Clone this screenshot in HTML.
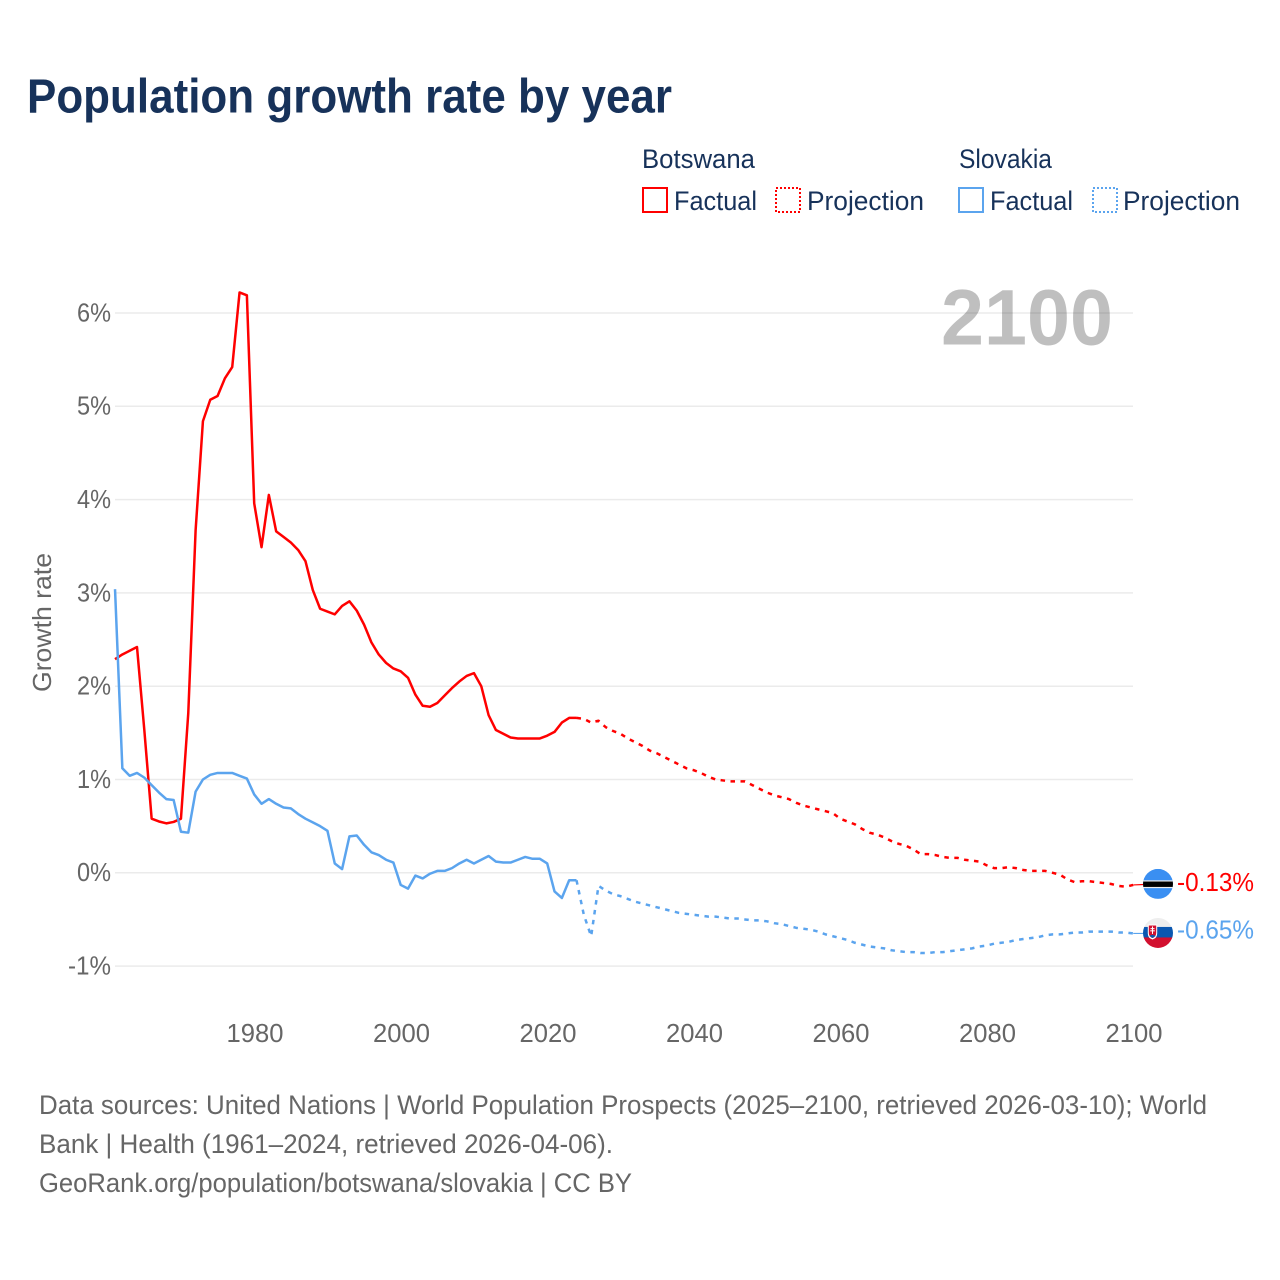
<!DOCTYPE html>
<html lang="en">
<head>
<meta charset="utf-8">
<title>Population growth rate by year</title>
<style>
html,body{margin:0;padding:0;background:#fff;}
body{width:1280px;height:1280px;overflow:hidden;}
svg{display:block;font-family:"Liberation Sans",sans-serif;}
</style>
</head>
<body>
<svg id="chart" width="1280" height="1280" viewBox="0 0 1280 1280" xmlns="http://www.w3.org/2000/svg">
  <rect x="0" y="0" width="1280" height="1280" fill="#ffffff"/>
  <text x="27" y="112.5" font-size="48" font-weight="700" fill="#17325a" textLength="645" lengthAdjust="spacingAndGlyphs">Population growth rate by year</text>

  <g font-size="26.5" fill="#17325a">
    <text x="642" y="168" textLength="113" lengthAdjust="spacingAndGlyphs">Botswana</text>
    <rect x="643" y="188" width="24" height="24" fill="none" stroke="#ff0000" stroke-width="2"/>
    <text x="674" y="210" textLength="83" lengthAdjust="spacingAndGlyphs">Factual</text>
    <rect x="776" y="188" width="24" height="24" fill="none" stroke="#ff0000" stroke-width="2" stroke-dasharray="2 2"/>
    <text x="807" y="210" textLength="117" lengthAdjust="spacingAndGlyphs">Projection</text>
    <text x="959" y="168" textLength="93" lengthAdjust="spacingAndGlyphs">Slovakia</text>
    <rect x="959" y="188" width="24" height="24" fill="none" stroke="#5ba4ee" stroke-width="2"/>
    <text x="990" y="210" textLength="83" lengthAdjust="spacingAndGlyphs">Factual</text>
    <rect x="1093" y="188" width="24" height="24" fill="none" stroke="#5ba4ee" stroke-width="2" stroke-dasharray="2 2"/>
    <text x="1123" y="210" textLength="117" lengthAdjust="spacingAndGlyphs">Projection</text>
  </g>

  <g id="grid"></g>
  <g id="yticks"></g>
  <g id="xticks"></g>

  <text transform="translate(51,692) rotate(-90)" font-size="26" fill="#666666" textLength="139" lengthAdjust="spacingAndGlyphs">Growth rate</text>
  <text x="941" y="344.5" font-size="79" font-weight="700" fill="#000000" fill-opacity="0.25" textLength="172" lengthAdjust="spacingAndGlyphs">2100</text>

  <g id="series"></g>
  <g id="ends"></g>

  <g font-size="26.5" fill="#666666">
    <text x="39" y="1114" textLength="1168" lengthAdjust="spacingAndGlyphs">Data sources: United Nations | World Population Prospects (2025–2100, retrieved 2026-03-10); World</text>
    <text x="39" y="1153" textLength="574" lengthAdjust="spacingAndGlyphs">Bank | Health (1961–2024, retrieved 2026-04-06).</text>
    <text x="39" y="1192" textLength="593" lengthAdjust="spacingAndGlyphs">GeoRank.org/population/botswana/slovakia | CC BY</text>
  </g>
</svg>
<script>
const factualStartYear = 1961;
const projectionStartYear = 2024;
const xTickYears = [1980, 2000, 2020, 2040, 2060, 2080, 2100];
const yTickValues = [-1, 0, 1, 2, 3, 4, 5, 6];

const botswanaFactual = [
  2.29, 2.34, 2.38, 2.42, 1.53, 0.58, 0.55, 0.53, 0.545, 0.58,
  1.71, 3.67, 4.84, 5.07, 5.11, 5.30, 5.42, 6.22, 6.19, 3.96,
  3.49, 4.05, 3.66, 3.60, 3.54, 3.46, 3.34, 3.03, 2.83, 2.80,
  2.77, 2.86, 2.91, 2.81, 2.66, 2.47, 2.34, 2.25, 2.19, 2.16,
  2.09, 1.91, 1.79, 1.78, 1.82, 1.90, 1.98, 2.05, 2.11, 2.14,
  2.00, 1.69, 1.53, 1.49, 1.45, 1.44, 1.44, 1.44, 1.44, 1.47,
  1.51, 1.61, 1.66, 1.66
];
const botswanaProjection = [
  1.66, 1.65, 1.61, 1.63, 1.56, 1.52, 1.49, 1.44, 1.40, 1.36,
  1.31, 1.28, 1.24, 1.20, 1.16, 1.12, 1.10, 1.07, 1.03, 1.00,
  0.99, 0.98, 0.98, 0.98, 0.94, 0.90, 0.86, 0.83, 0.81, 0.79,
  0.75, 0.72, 0.70, 0.68, 0.66, 0.64, 0.58, 0.55, 0.52, 0.47,
  0.43, 0.41, 0.38, 0.34, 0.31, 0.29, 0.25, 0.20, 0.20, 0.19,
  0.17, 0.16, 0.16, 0.14, 0.13, 0.12, 0.08, 0.05, 0.05, 0.06,
  0.05, 0.03, 0.02, 0.02, 0.02, 0.00, -0.02, -0.07, -0.10, -0.09,
  -0.09, -0.10, -0.11, -0.12, -0.14, -0.15, -0.13
];
const slovakiaFactual = [
  3.04, 1.12, 1.04, 1.07, 1.02, 0.94, 0.86, 0.79, 0.78, 0.44,
  0.43, 0.87, 1.00, 1.05, 1.07, 1.07, 1.07, 1.04, 1.01, 0.84,
  0.74, 0.79, 0.74, 0.70, 0.69, 0.63, 0.58, 0.54, 0.50, 0.45,
  0.10, 0.04, 0.39, 0.40, 0.30, 0.22, 0.19, 0.14, 0.11, -0.13,
  -0.17, -0.03, -0.06, -0.01, 0.02, 0.02, 0.05, 0.10, 0.14, 0.10,
  0.14, 0.18, 0.12, 0.11, 0.11, 0.14, 0.17, 0.15, 0.15, 0.10,
  -0.20, -0.27, -0.08, -0.08
];
const slovakiaProjection = [
  -0.08, -0.45, -0.68, -0.14, -0.19, -0.23, -0.25, -0.28, -0.31, -0.33,
  -0.35, -0.37, -0.39, -0.41, -0.43, -0.44, -0.45, -0.46, -0.47, -0.47,
  -0.48, -0.49, -0.49, -0.50, -0.51, -0.51, -0.52, -0.54, -0.55, -0.57,
  -0.59, -0.60, -0.61, -0.63, -0.66, -0.68, -0.70, -0.72, -0.75, -0.77,
  -0.79, -0.80, -0.81, -0.83, -0.84, -0.85, -0.85, -0.86, -0.86, -0.85,
  -0.85, -0.84, -0.83, -0.82, -0.81, -0.79, -0.78, -0.76, -0.75, -0.74,
  -0.72, -0.71, -0.70, -0.69, -0.67, -0.66, -0.66, -0.65, -0.64, -0.64,
  -0.63, -0.63, -0.63, -0.63, -0.64, -0.64, -0.65
];

const NS = 'http://www.w3.org/2000/svg';
const xScale = function (year) { return 254.2 + (year - 1980) * 7.325; };
const yScale = function (value) { return 872.8 - value * 93.3; };

function make(tag, parent, attrs, text) {
  const el = document.createElementNS(NS, tag);
  Object.keys(attrs).forEach(function (k) { el.setAttribute(k, attrs[k]); });
  if (text !== undefined) el.textContent = text;
  parent.appendChild(el);
  return el;
}
function pathFor(values, startYear) {
  return values.map(function (v, i) {
    return (i ? 'L' : 'M') + xScale(startYear + i).toFixed(2) + ' ' + yScale(v).toFixed(2);
  }).join(' ');
}

const gridG = document.getElementById('grid');
const yG = document.getElementById('yticks');
yTickValues.forEach(function (v) {
  const g = make('line', gridG, { x1: 115, x2: 1133, y1: yScale(v), y2: yScale(v), stroke: '#ebebeb', 'stroke-width': 1.5 });
  
  
  const t = make('text', yG, { x: 111, y: yScale(v) + 8.4, 'text-anchor': 'end', 'font-size': 25.6, fill: '#666666', textLength: v < 0 ? 43 : 34, lengthAdjust: 'spacingAndGlyphs' }, v + '%');
  
  
});

const xG = document.getElementById('xticks');
xTickYears.forEach(function (yr) {
  const t = make('text', xG, { x: xScale(yr) + 0.8, y: 1042, 'text-anchor': 'middle', 'font-size': 25.6, fill: '#666666' }, String(yr));
  
  
});

const RED = '#ff0000';
const BLUE = '#5ba4ee';
const seriesG = document.getElementById('series');
const lineBase = { fill: 'none', 'stroke-width': 2.5, 'stroke-linejoin': 'round' };
const dashBase = { fill: 'none', 'stroke-width': 2.5, 'stroke-linejoin': 'round', 'stroke-dasharray': '4.5 5.5' };

const botFactLine = make('path', seriesG, Object.assign({ d: pathFor(botswanaFactual, factualStartYear), stroke: RED }, lineBase));



const botProjLine = make('path', seriesG, Object.assign({ d: pathFor(botswanaProjection, projectionStartYear), stroke: RED }, dashBase));



const sloFactLine = make('path', seriesG, Object.assign({ d: pathFor(slovakiaFactual, factualStartYear), stroke: BLUE }, lineBase));



const sloProjLine = make('path', seriesG, Object.assign({ d: pathFor(slovakiaProjection, projectionStartYear), stroke: BLUE }, dashBase));



const endsG = document.getElementById('ends');
const botLast = botswanaProjection[botswanaProjection.length - 1];
const sloLast = slovakiaProjection[slovakiaProjection.length - 1];
const botY = yScale(botLast);
const sloY = yScale(sloLast);
const flagX = 1158;

const botConn = make('line', endsG, { x1: xScale(2100), x2: flagX, y1: botY, y2: botY - 1, stroke: RED, 'stroke-width': 1.2 });


const sloConn = make('line', endsG, { x1: xScale(2100), x2: flagX, y1: sloY, y2: sloY, stroke: BLUE, 'stroke-width': 1.2 });



const defs = make('defs', endsG, {});
const clipB = make('clipPath', defs, { id: 'clip-bw' });
make('circle', clipB, { cx: flagX, cy: botY - 1, r: 15 });
const clipS = make('clipPath', defs, { id: 'clip-sk' });
make('circle', clipS, { cx: flagX, cy: sloY - 0.5, r: 15 });

const bw = make('g', endsG, { 'clip-path': 'url(#clip-bw)' });


const by = botY - 1;
make('rect', bw, { x: flagX - 15, y: by - 15, width: 30, height: 30, fill: '#3a8ff2' });
make('rect', bw, { x: flagX - 15, y: by - 3.6, width: 30, height: 7.8, fill: '#eeeeee' });
make('rect', bw, { x: flagX - 15, y: by - 2.4, width: 30, height: 5.4, fill: '#000000' });

const sk = make('g', endsG, { 'clip-path': 'url(#clip-sk)' });


const sy = sloY - 0.5;
make('rect', sk, { x: flagX - 15, y: sy - 15, width: 30, height: 10, fill: '#eeeeee' });
make('rect', sk, { x: flagX - 15, y: sy - 6, width: 30, height: 11, fill: '#0b57b0' });
make('rect', sk, { x: flagX - 15, y: sy + 4.5, width: 30, height: 11, fill: '#d2102f' });
const shieldPath = function (cx, top, w, h) {
  return 'M' + (cx - w / 2) + ' ' + top + ' h' + w + ' v' + (h * 0.6) + ' q0 ' + (h * 0.3) + ' ' + (-w / 2) + ' ' + (h * 0.4) + ' q' + (-w / 2) + ' ' + (-h * 0.1) + ' ' + (-w / 2) + ' ' + (-h * 0.4) + ' z';
};
make('path', sk, { d: shieldPath(flagX - 5.5, sy - 8.5, 9.4, 15), fill: '#ffffff' });
make('path', sk, { d: shieldPath(flagX - 5.5, sy - 7.5, 7.4, 12.6), fill: '#d2102f' });
make('rect', sk, { x: flagX - 6, y: sy - 6.5, width: 1, height: 7.5, fill: '#ffffff' });
make('rect', sk, { x: flagX - 7.5, y: sy - 4.8, width: 4, height: 1, fill: '#ffffff' });
make('rect', sk, { x: flagX - 7.8, y: sy - 2.6, width: 4.6, height: 1, fill: '#ffffff' });
make('path', sk, { d: 'M' + (flagX - 8.6) + ' ' + (sy + 3) + ' q3 -2.5 6.2 0 l-3.1 2 z', fill: '#0b57b0' });

const fmt = function (v) { return v.toFixed(2) + '%'; };
const botLabel = make('text', endsG, { x: 1177, y: botY + 6, 'font-size': 26, fill: RED, textLength: 77, lengthAdjust: 'spacingAndGlyphs' }, fmt(botLast));


const sloLabel = make('text', endsG, { x: 1177, y: sloY + 5, 'font-size': 26, fill: BLUE, textLength: 77, lengthAdjust: 'spacingAndGlyphs' }, fmt(sloLast));


</script>
</body>
</html>
